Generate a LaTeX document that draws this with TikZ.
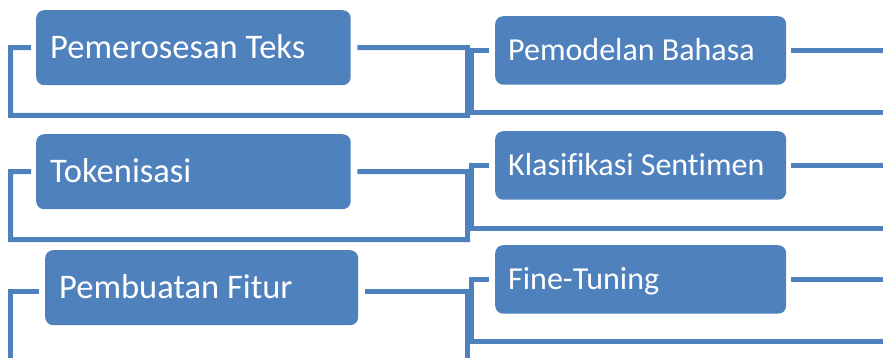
\documentclass[tikz,border=0pt]{standalone}
\usepackage{fontspec}
\setmainfont{Carlito}[Ligatures=NoCommon]
\definecolor{boxblue}{HTML}{4F81BD}

\begin{document}
\begin{tikzpicture}[x=1pt, y=-1pt,
  line/.style={boxblue, line width=5pt},
  lbox/.style={fill=boxblue, text=white, rounded corners=8pt, anchor=north west,
    align=flush left, inner xsep=14pt, inner ysep=0pt, minimum height=75pt,
    font=\fontsize{34.5}{41}\selectfont, text height=22pt, text depth=0pt},
  rbox/.style={fill=boxblue, text=white, rounded corners=8pt, anchor=north west,
    align=flush left, text width=265pt, inner xsep=13pt, inner ysep=0pt, minimum height=68.5pt,
    font=\fontsize{32}{38}\selectfont, text height=20.5pt, text depth=0pt}]
\useasboundingbox (0,0) rectangle (883,358);

\node[lbox, text width=286.5pt] (proc) at (36,10) {Pemerosesan Teks};
\node[lbox, text width=286.5pt] (tok) at (36,134) {Tokenisasi};
\node[lbox, text width=285pt] (fitur) at (45,250) {Pembuatan Fitur};
\node[rbox] (lm) at (495,16) {Pemodelan Bahasa};
\node[rbox] (senti) at (495,131) {Klasifikasi Sentimen};
\node[rbox] (tune) at (495,245) {Fine-Tuning};

\coordinate (pl1) at (10.5,115.5);
\coordinate (pr1) at (467.5,47.5);
\coordinate (pl2) at (10.5,239.5);
\coordinate (pr2) at (467.5,171.5);
\coordinate (pl3) at (10.5,358);
\coordinate (pr3) at (467.5,358);
\coordinate (ql1) at (471.5,113);
\coordinate (qr1) at (883,113);
\coordinate (ql2) at (471.5,228.5);
\coordinate (qr2) at (883,228.5);
\coordinate (ql3) at (471.5,341.5);
\coordinate (qr3) at (883,341.5);

\draw[line] ([xshift=-5pt]proc.west) -| (pl1) -| (pr1) -- ([xshift=6.5pt]proc.east);
\draw[line] ([xshift=-5pt]tok.west) -| (pl2) -| (pr2) -- ([xshift=6.5pt]tok.east);
\draw[line] ([xshift=-6pt,yshift=-4pt]fitur.west) -| (pl3);
\draw[line] ([xshift=7pt,yshift=-4pt]fitur.east) -| (pr3);

\draw[line] ([xshift=-6pt]lm.west) -| (ql1) -- (qr1);
\draw[line] ([xshift=5pt]lm.east) -- (lm.east -| qr1);
\draw[line] ([xshift=-6pt]senti.west) -| (ql2) -- (qr2);
\draw[line] ([xshift=5pt]senti.east) -- (senti.east -| qr2);
\draw[line] ([xshift=-6pt]tune.west) -| (ql3) -- (qr3);
\draw[line] ([xshift=5pt]tune.east) -- (tune.east -| qr3);
\end{tikzpicture}
\end{document}
